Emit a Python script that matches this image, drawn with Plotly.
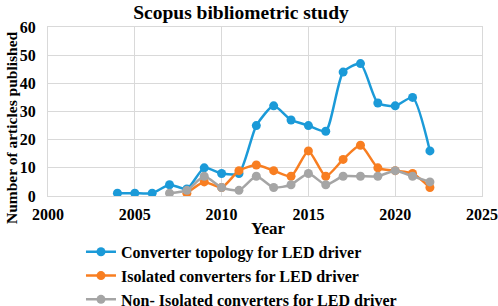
import plotly.graph_objects as go

years_blue = [2004, 2005, 2006, 2007, 2008, 2009, 2010, 2011, 2012, 2013, 2014, 2015, 2016, 2017, 2018, 2019, 2020, 2021, 2022]
blue_vals = [1, 1, 1, 4, 2.5, 10, 8, 8, 25, 32, 27, 25, 23, 44, 47, 33, 32, 35, 16]

years_orange = [2008, 2009, 2010, 2011, 2012, 2013, 2014, 2015, 2016, 2017, 2018, 2019, 2020, 2021, 2022]
orange_vals = [1, 5, 3, 9, 11, 9, 7, 16, 7, 13, 18, 10, 9, 8, 3]

years_gray = [2007, 2008, 2009, 2010, 2011, 2012, 2013, 2014, 2015, 2016, 2017, 2018, 2019, 2020, 2021, 2022]
gray_vals = [1, 2, 7, 3, 2, 7, 3, 4, 8, 4, 7, 7, 7, 9, 7, 5]

names = ["Converter topology for LED driver",
         "Isolated converters for LED driver",
         "Non- Isolated converters for LED driver"]
colors = ["#1B9AD8", "#F87E21", "#A5A5A5"]
x_ticks = [2000, 2005, 2010, 2015, 2020, 2025]
y_ticks = [0, 10, 20, 30, 40, 50, 60]

font_family = "Liberation Serif"

fig = go.Figure()
for xs, ys, nm, c in [(years_blue, blue_vals, names[0], colors[0]),
                      (years_orange, orange_vals, names[1], colors[1]),
                      (years_gray, gray_vals, names[2], colors[2])]:
    fig.add_trace(go.Scatter(x=xs, y=ys, name="<b>%s</b>" % nm, mode="lines+markers",
                             line=dict(color=c, width=2.5, shape="spline", smoothing=0.6),
                             marker=dict(color=c, size=9)))

fig.update_layout(
    width=498, height=306,
    margin=dict(l=48, r=16, t=27, b=110, autoexpand=False),
    paper_bgcolor="white", plot_bgcolor="white",
    font=dict(family=font_family, size=16, color="black"),
    title=dict(text="<b>Scopus bibliometric study</b>", x=241 / 498, xanchor="center",
               y=1 - 12 / 306, yanchor="middle", font=dict(size=19.5, family=font_family)),
    showlegend=True,
    legend=dict(x=0.076, y=-0.23, xanchor="left", yanchor="top",
                font=dict(size=16, family=font_family), bgcolor="rgba(0,0,0,0)",
                tracegroupgap=0),
    xaxis=dict(range=[2000, 2025], tickmode="array", automargin=False,
               tickvals=x_ticks, ticktext=["<b>%d</b>" % v for v in x_ticks],
               showgrid=True, gridcolor="#D9D9D9", gridwidth=1,
               showline=True, linecolor="#D9D9D9", mirror=True, zeroline=False,
               ticks="", ticklabelstandoff=4, ticklabeloverflow="allow"),
    yaxis=dict(range=[0, 60], tickmode="array", automargin=False,
               tickvals=y_ticks, ticktext=["<b>%d</b>" % v for v in y_ticks],
               showgrid=True, gridcolor="#D9D9D9", gridwidth=1,
               showline=True, linecolor="#D9D9D9", mirror=True, zeroline=False,
               ticks="", ticklabelstandoff=8, ticklabeloverflow="allow"),
    annotations=[
        dict(text="<b>Year</b>", xref="paper", yref="paper",
             x=(268 - 48) / 434, y=(196 - 229) / 169, xanchor="center", yanchor="middle",
             showarrow=False, font=dict(size=17, family=font_family)),
        dict(text="<b>Number of articles published</b>", xref="paper", yref="paper",
             x=(12 - 48) / 434, y=(196 - 128) / 169, xanchor="center", yanchor="middle",
             textangle=-90, showarrow=False, font=dict(size=15.5, family=font_family)),
    ],
)

fig.write_html("out.html", config={"displayModeBar": False},
               post_script="document.body.style.margin='0';")
